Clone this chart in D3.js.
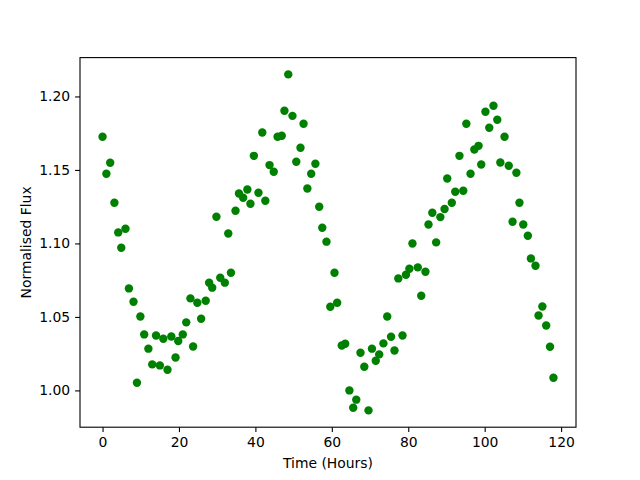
<!DOCTYPE html>
<html>
<head>
<meta charset="utf-8">
<script src="https://cdn.jsdelivr.net/npm/d3@7"></script>
<style>
  body { margin: 0; background: #fff; }
  svg { display: block; font-family: "DejaVu Sans", sans-serif; }
</style>
</head>
<body>
<div id="chart"></div>
<script>
var hours = [
  0.0, 1.0, 2.0, 3.1, 4.1, 4.9, 6.0, 6.9, 8.1, 9.0,
  9.9, 10.9, 12.0, 13.0, 14.0, 15.0, 15.9, 17.0, 18.0, 19.1,
  19.8, 21.0, 21.9, 23.0, 23.7, 24.8, 25.8, 27.0, 27.9, 28.7,
  29.8, 30.8, 32.0, 32.9, 33.6, 34.8, 35.7, 36.8, 37.9, 38.7,
  39.6, 40.8, 41.8, 42.6, 43.7, 44.8, 45.8, 46.9, 47.6, 48.6,
  49.7, 50.7, 51.8, 52.6, 53.6, 54.6, 55.7, 56.7, 57.5, 58.6,
  59.6, 60.7, 61.4, 62.6, 63.5, 64.6, 65.6, 66.4, 67.5, 68.5,
  69.6, 70.5, 71.5, 72.4, 73.5, 74.5, 75.5, 76.4, 77.4, 78.5,
  79.4, 80.3, 81.1, 82.5, 83.4, 84.5, 85.3, 86.3, 87.3, 88.4,
  89.5, 90.2, 91.4, 92.3, 93.4, 94.4, 95.2, 96.3, 97.3, 98.4,
  99.1, 100.2, 101.2, 102.3, 103.3, 104.1, 105.2, 106.3, 107.3, 108.3,
  109.1, 110.1, 111.3, 112.1, 113.3, 114.1, 115.1, 116.1, 117.1, 118.0
];
var flux = [
  1.1726, 1.1474, 1.1549, 1.1277, 1.1075, 1.0971, 1.1100, 1.0694, 1.0603, 1.0052,
  1.0503, 1.0381, 1.0284, 1.0177, 1.0374, 1.0170, 1.0351, 1.0141, 1.0367, 1.0224,
  1.0336, 1.0381, 1.0463, 1.0626, 1.0299, 1.0596, 1.0488, 1.0610, 1.0733, 1.0699,
  1.1182, 1.0767, 1.0733, 1.1068, 1.0801, 1.1222, 1.1340, 1.1311, 1.1367, 1.1270,
  1.1596, 1.1345, 1.1755, 1.1290, 1.1533, 1.1488, 1.1726, 1.1733, 1.1903, 1.2150,
  1.1868, 1.1556, 1.1651, 1.1814, 1.1374, 1.1474, 1.1542, 1.1250, 1.1107, 1.1012,
  1.0569, 1.0801, 1.0596, 1.0306, 1.0317, 1.0000, 0.9882, 0.9937, 1.0256, 1.0161,
  0.9864, 1.0284, 1.0202, 1.0245, 1.0320, 1.0503, 1.0365, 1.0272, 1.0762, 1.0374,
  1.0787, 1.0828, 1.1000, 1.0837, 1.0644, 1.0807, 1.1129, 1.1209, 1.1007, 1.1179,
  1.1234, 1.1442, 1.1277, 1.1352, 1.1596, 1.1358, 1.1814, 1.1474, 1.1639, 1.1664,
  1.1537, 1.1896, 1.1787, 1.1937, 1.1841, 1.1551, 1.1726, 1.1528, 1.1147, 1.1481,
  1.1277, 1.1129, 1.1052, 1.0898, 1.0848, 1.0510, 1.0571, 1.0442, 1.0297, 1.0086
];
var xTicks = [0, 20, 40, 60, 80, 100, 120];
var yTicks = [1.00, 1.05, 1.10, 1.15, 1.20];

var width = 640, height = 480;
var margin = { top: 57.6, right: 64, bottom: 52.8, left: 80 };

var svg = d3.select('#chart').append('svg')
    .attr('width', width)
    .attr('height', height);

// matplotlib style 5% padding around the data
function padded(vals) {
  var ext = d3.extent(vals), span = ext[1] - ext[0];
  return [ext[0] - 0.05 * span, ext[1] + 0.05 * span];
}

var x = d3.scaleLinear().domain(padded(hours)).range([margin.left, width - margin.right]);
var y = d3.scaleLinear().domain(padded(flux)).range([height - margin.bottom, margin.top]);

var points = hours.map(function (h, i) { return { t: h, f: flux[i] }; });

svg.append('g')
  .selectAll('circle')
  .data(points)
  .enter()
  .append('circle')
  .attr('cx', function (d) { return x(d.t); })
  .attr('cy', function (d) { return y(d.f); })
  .attr('r', 4.2)
  .style('fill', '#008000');

var xAxis = svg.append('g')
    .attr('transform', 'translate(0,' + (height - margin.bottom) + ')')
    .call(d3.axisBottom(x).tickValues(xTicks).tickFormat(d3.format('d')).tickSizeInner(4.9).tickSizeOuter(0).tickPadding(4.9));

var yAxis = svg.append('g')
    .attr('transform', 'translate(' + margin.left + ',0)')
    .call(d3.axisLeft(y).tickValues(yTicks).tickFormat(d3.format('.2f')).tickSizeInner(4.9).tickSizeOuter(0).tickPadding(4.9));

[xAxis, yAxis].forEach(function (ax) {
  ax.select('.domain').remove();
  ax.selectAll('line').attr('stroke', '#000').attr('stroke-width', 1.1);
  ax.selectAll('text')
    .attr('fill', '#000')
    .style('font-size', '13.9px')
    .style('font-family', '"DejaVu Sans", sans-serif');
});

// frame around the axes
svg.append('rect')
  .attr('x', margin.left)
  .attr('y', margin.top)
  .attr('width', width - margin.left - margin.right)
  .attr('height', height - margin.top - margin.bottom)
  .attr('fill', 'none')
  .attr('stroke', '#000')
  .attr('stroke-width', 1.1);

svg.append('text')
  .attr('x', (margin.left + width - margin.right) / 2)
  .attr('y', 468)
  .attr('text-anchor', 'middle')
  .style('font-size', '13.9px')
  .text('Time (Hours)');

svg.append('text')
  .attr('transform', 'translate(31,' + ((margin.top + height - margin.bottom) / 2) + ') rotate(-90)')
  .attr('text-anchor', 'middle')
  .style('font-size', '13.9px')
  .text('Normalised Flux');
</script>
</body>
</html>
